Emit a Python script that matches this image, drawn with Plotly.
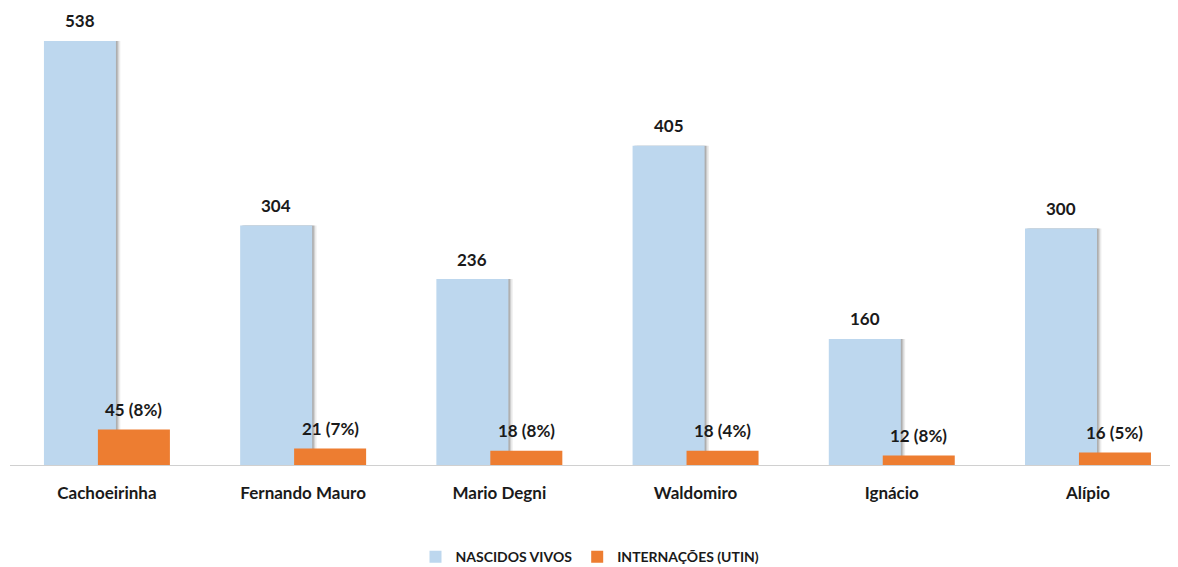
import plotly.graph_objects as go

categories = ["Cachoeirinha", "Fernando Mauro", "Mario Degni", "Waldomiro", "Ignácio", "Alípio"]
nascidos_vivos = [538, 304, 236, 405, 160, 300]
internacoes = [45, 21, 18, 18, 12, 16]
internacoes_pct = ["8%", "7%", "8%", "4%", "8%", "5%"]

internacoes_labels = [f"{v} ({p})" for v, p in zip(internacoes, internacoes_pct)]

BLUE = "#BDD7EE"
ORANGE = "#ED7D31"
BAR_W = 0.367
BLUE_OFF = -0.321
ORANGE_OFF = -0.046
PX_PER_CAT = 196.2
label_font = dict(family="Lato", size=17, color="#1a1a1a", weight="bold")

fig = go.Figure()

# soft shadow behind the blue bars
for shift, alpha in [(0.022, 0.10), (0.014, 0.16), (0.008, 0.22)]:
    fig.add_trace(go.Bar(
        x=categories, y=nascidos_vivos,
        offset=BLUE_OFF + shift, width=BAR_W,
        marker=dict(color=f"rgba(60,60,60,{alpha})", line=dict(width=0)),
        showlegend=False, hoverinfo="skip",
    ))

fig.add_trace(go.Bar(
    name="NASCIDOS VIVOS",
    x=categories, y=nascidos_vivos,
    offset=BLUE_OFF, width=BAR_W,
    marker=dict(color=BLUE, line=dict(width=0)),
    hoverinfo="x+y",
))

fig.add_trace(go.Bar(
    name="INTERNAÇÕES (UTIN)",
    x=categories, y=internacoes,
    offset=ORANGE_OFF, width=BAR_W,
    marker=dict(color=ORANGE, line=dict(width=0)),
    hoverinfo="x+y",
))

# value labels above each bar
blue_shift = (BLUE_OFF + BAR_W / 2) * PX_PER_CAT
orange_shift = (ORANGE_OFF + BAR_W / 2) * PX_PER_CAT
for cat, v in zip(categories, nascidos_vivos):
    fig.add_annotation(x=cat, y=v, text=str(v), showarrow=False,
                       xshift=blue_shift, yshift=20, yanchor="middle",
                       font=label_font)
for cat, v, lbl in zip(categories, internacoes, internacoes_labels):
    fig.add_annotation(x=cat, y=v, text=lbl, showarrow=False,
                       xshift=orange_shift, yshift=20, yanchor="middle",
                       font=label_font)

fig.update_layout(
    width=1178, height=567,
    barmode="overlay",
    plot_bgcolor="white", paper_bgcolor="white",
    margin=dict(l=10, r=8, t=0, b=102, autoexpand=False),
    font=dict(family="Lato", color="#1a1a1a"),
    legend=dict(
        orientation="h", x=0.5, xanchor="center", y=-0.198, yanchor="middle",
        font=dict(family="Lato", size=14, color="#1a1a1a", weight="bold"),
        itemsizing="constant", traceorder="normal",
    ),
    xaxis=dict(
        range=[-0.494, 5.418],
        showline=True, linecolor="#D0D0D0", linewidth=1,
        showgrid=False, ticks="", ticklabelstandoff=13,
        tickfont=dict(family="Lato", size=17, color="#1a1a1a", weight="bold"),
    ),
    yaxis=dict(
        range=[0, 590], visible=False, showgrid=False, zeroline=False,
    ),
)

fig.write_html("out.html", config={"displayModeBar": False},
               post_script="document.body.style.margin='0';")
